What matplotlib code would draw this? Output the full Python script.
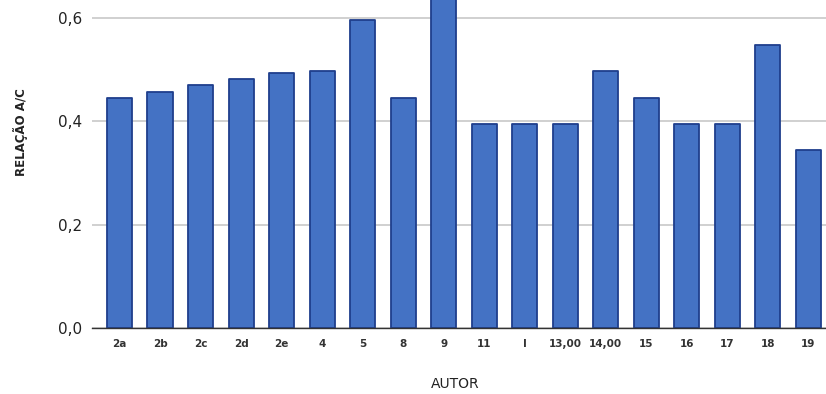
import matplotlib.pyplot as plt

autores = ["2a", "2b", "2c", "2d", "2e", "4", "5", "8", "9", "11", "I",
           "13,00", "14,00", "15", "16", "17", "18", "19"]
relacao_ac = [0.445, 0.457, 0.47, 0.482, 0.494, 0.497, 0.597, 0.445, 0.70,
              0.395, 0.395, 0.395, 0.497, 0.445, 0.395, 0.395, 0.547, 0.345]
yticks = [0.0, 0.2, 0.4, 0.6]
ytick_labels = ["0,0", "0,2", "0,4", "0,6"]

fig = plt.figure(figsize=(8.26, 3.94), dpi=100)
ax = fig.add_axes([92 / 826, 66 / 394, 734 / 826, 328 / 394])

x = range(len(autores))
bars = ax.bar(x, relacao_ac, width=0.62, color="#4472C4",
              edgecolor="#1F3E8C", linewidth=1.3, zorder=3)
for b in bars:
    b.set_joinstyle("round")

ax.set_xlim(-0.68, len(autores) - 0.56)
ax.set_ylim(0, 0.635)
ax.set_yticks(yticks)
ax.set_yticklabels(ytick_labels, fontsize=11, color="#222222")
ax.set_xticks(list(x))
ax.set_xticklabels(autores, fontsize=7.5, fontweight="bold", color="#333333")
ax.tick_params(axis="both", length=0)
ax.tick_params(axis="x", pad=8)
ax.tick_params(axis="y", pad=7)

ax.yaxis.grid(True, color="#C8C8C8", linewidth=1.2, zorder=0)
for s in ["top", "right", "left"]:
    ax.spines[s].set_visible(False)
ax.spines["bottom"].set_color("#333333")
ax.spines["bottom"].set_linewidth(1.0)
ax.spines["bottom"].set_zorder(4)

fig.text(21 / 826, 1 - 132 / 394, "RELAÇÃO A/C", rotation=90, ha="center",
         va="center", fontsize=8.5, fontweight="bold", color="#222222")
fig.text(455 / 826, 1 - 384 / 394, "AUTOR", ha="center", va="center",
         fontsize=10, color="#222222")

fig.savefig("out.png", dpi=100)
